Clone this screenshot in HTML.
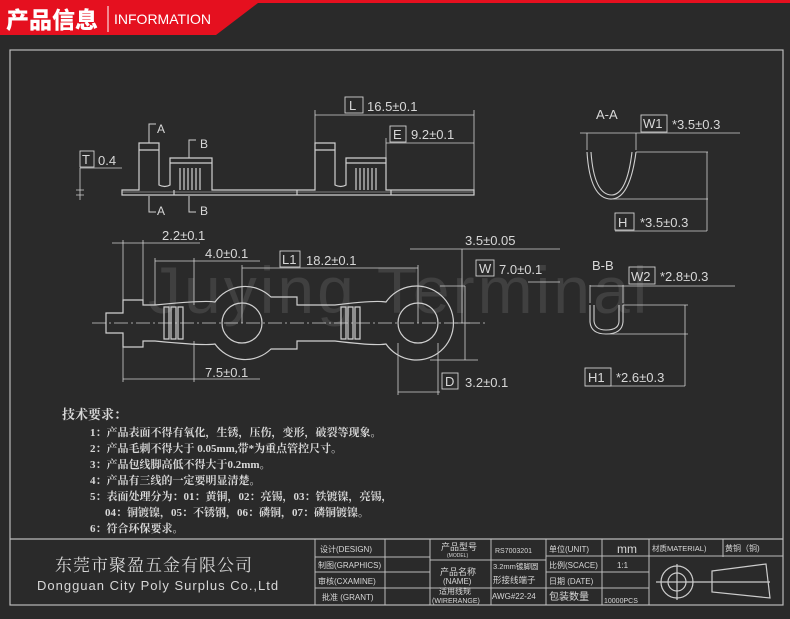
<!DOCTYPE html>
<html><head><meta charset="utf-8"><style>
html,body{margin:0;padding:0;background:#2a2a2a;}
svg{display:block}
text{font-family:"Liberation Sans","Noto Sans CJK SC",sans-serif;fill:#d8d8d8}
.cn{font-family:"Liberation Serif","Noto Serif CJK SC",serif;}
</style></head><body>
<svg width="790" height="619" viewBox="0 0 790 619" xmlns="http://www.w3.org/2000/svg">
<rect width="790" height="619" fill="#2a2a2a"/>
<!-- header -->
<polygon points="0,0 790,0 790,3 258,3 216,35 0,35" fill="#e5101f"/>
<text x="6" y="28" style="font-family:'Noto Sans CJK SC',sans-serif;font-weight:900;fill:#fff" font-size="23">产品信息</text>
<line x1="108" y1="6" x2="108" y2="32" stroke="#fff" stroke-width="1"/>
<text x="114" y="24" font-size="14" style="fill:#fff">INFORMATION</text>

<!-- watermark -->
<text x="148" y="313" font-size="66" style="fill:#404040" letter-spacing="3">Juying  Terminal</text>

<g stroke="#d0d0d0" stroke-width="1.2" fill="none">
<!-- frame -->
<rect x="10" y="50" width="773" height="555" stroke="#bbb"/>
<line x1="10" y1="539" x2="783" y2="539" stroke="#bbb"/>

<!-- side view -->
<path d="M122,195 H474 V190 H386 V158 H346 V185 Q341,188 335,185 V143 H315 V190 H212 V158 H170 V185 Q165,188 159,185 V143 H139 V190 H122 Z"/>
<line x1="122" y1="192" x2="474" y2="192" stroke-width="0.6"/>
<line x1="139" y1="150" x2="159" y2="150"/>
<line x1="315" y1="150" x2="335" y2="150"/>
<line x1="170" y1="163" x2="212" y2="163"/>
<line x1="346" y1="163" x2="386" y2="163"/>
<path d="M180,168 V190 M184,168 V190 M188,168 V190 M192,168 V190 M196,168 V190 M200,168 V190"/>
<path d="M356,168 V190 M360,168 V190 M364,168 V190 M368,168 V190 M372,168 V190 M376,168 V190"/>
<line x1="174" y1="190" x2="174" y2="195"/><line x1="297" y1="190" x2="297" y2="195"/><line x1="391" y1="190" x2="391" y2="195"/>
<path d="M149,143 V124 H156 M149,196 V212 H156" stroke-width="1"/>
<path d="M189,158 V140 H196 M189,196 V212 H196" stroke-width="1"/>
<path d="M80,168 H122 M80,168 V200 M76,190 H84 M76,195 H84" stroke-width="0.8"/>
<path d="M315,143 V110 M474,190 V110 M315,115 H474 M386,158 V138 M386,143 H474" stroke-width="0.8"/>

<!-- top view -->
<line x1="92" y1="323" x2="485" y2="323" stroke-dasharray="14,3,2,3" stroke-width="0.8"/>
<path d="M106,313 H123 V300 H143 V305 H155 Q205,300 215,302 A37,37 0 0 1 271,297 H280 V297 H297 V305 H335 Q375,300 386,302 A37,37 0 1 1 386,344 Q375,346 335,341 H297 V349 H280 V349 H271 A37,37 0 0 1 215,344 Q205,346 155,341 H143 V347 H123 V333 H106 Z"/>
<circle cx="242" cy="323" r="20"/>
<circle cx="418" cy="323" r="20"/>
<path d="M164,307 h5 v32 h-5 z M171,307 h5 v32 h-5 z M178,307 h5 v32 h-5 z"/>
<path d="M341,307 h5 v32 h-5 z M348,307 h5 v32 h-5 z M355,307 h5 v32 h-5 z"/>
<g stroke-width="0.8">
<path d="M123,300 V240 M143,305 V240 M112,243 H200"/>
<path d="M155,305 V258 M194,305 V258 M155,261 H260"/>
<path d="M242,323 V265 M418,323 V265 M242,268 H418"/>
<path d="M123,347 V382 M194,341 V382 M123,379 H260"/>
<path d="M398,343 V395 M438,343 V395 M398,392 H440"/>
<path d="M440,286 H465 M430,360 H478 M465,286 V360"/>
<path d="M410,249 H560 M462,249 V323 M455,323 H470"/>
<path d="M528,282 H560"/>
</g>

<!-- A-A -->
<path d="M587,152 Q590,200 612,199 Q630,198 636,152 M591,152 Q594,195 612,195 Q627,194 632,152" stroke-width="1.1"/>
<g stroke-width="0.8">
<path d="M587,150 V133 M636,150 V133 M580,133 H740"/>
<path d="M636,152 H708 M612,199 H708 M707,152 V231 M615,231 H707"/>
</g>
<!-- B-B -->
<path d="M590,305 V322 Q591,334 606,334 Q622,334 623,322 V305 M594,305 V321 Q595,330 606,330 Q619,330 619,321 V305" stroke-width="1.1"/>
<g stroke-width="0.8">
<path d="M590,303 V285 M623,303 V285 M590,286 H735"/>
<path d="M623,305 H688 M606,334 H688 M685,305 V386 M585,386 H685"/>
</g>

<g stroke-width="0.9">
<rect x="80" y="151" width="14" height="16"/>
<rect x="345" y="97" width="18" height="16"/>
<rect x="390" y="126" width="16" height="16"/>
<rect x="280" y="251" width="20" height="16"/>
<rect x="476" y="260" width="18" height="16"/>
<rect x="442" y="373" width="16" height="16"/>
<rect x="641" y="115" width="26" height="17"/>
<rect x="615" y="213" width="19" height="17"/>
<rect x="629" y="267" width="26" height="17"/>
<rect x="585" y="368" width="26" height="18"/>
</g>

<!-- title block -->
<g stroke="#bbb" stroke-width="1">
<line x1="315" y1="539" x2="315" y2="605"/>
<line x1="385" y1="539" x2="385" y2="605"/>
<line x1="430" y1="539" x2="430" y2="605"/>
<line x1="491" y1="539" x2="491" y2="605"/>
<line x1="546" y1="539" x2="546" y2="605"/>
<line x1="602" y1="539" x2="602" y2="605"/>
<line x1="649" y1="539" x2="649" y2="605"/>
<line x1="723" y1="539" x2="723" y2="557"/>
<line x1="315" y1="557" x2="430" y2="557"/>
<line x1="315" y1="572" x2="430" y2="572"/>
<line x1="315" y1="588" x2="430" y2="588"/>
<line x1="430" y1="560" x2="546" y2="560"/>
<line x1="430" y1="588" x2="546" y2="588"/>
<line x1="546" y1="556" x2="783" y2="556"/>
<line x1="546" y1="572" x2="649" y2="572"/>
<line x1="546" y1="588" x2="649" y2="588"/>
</g>
<g stroke="#ccc" stroke-width="1.2">
<circle cx="677" cy="582" r="16"/><circle cx="677" cy="582" r="9"/>
<line x1="656" y1="582" x2="770" y2="582"/><line x1="677" y1="564" x2="677" y2="600"/>
<path d="M712,571 L766,564 L770,598 L712,592 Z"/>
</g>
</g>

<g font-size="13">
<text x="82" y="164">T</text><text x="98" y="165">0.4</text>
<text x="157" y="133" font-size="12">A</text><text x="157" y="215" font-size="12">A</text>
<text x="200" y="148" font-size="12">B</text><text x="200" y="215" font-size="12">B</text>
<text x="349" y="110">L</text><text x="367" y="111">16.5±0.1</text>
<text x="393" y="139">E</text><text x="411" y="139">9.2±0.1</text>
<text x="162" y="240">2.2±0.1</text>
<text x="205" y="258">4.0±0.1</text>
<text x="282" y="264">L1</text><text x="306" y="265">18.2±0.1</text>
<text x="465" y="245">3.5±0.05</text>
<text x="479" y="273">W</text><text x="499" y="274">7.0±0.1</text>
<text x="205" y="377">7.5±0.1</text>
<text x="445" y="386">D</text><text x="465" y="387">3.2±0.1</text>
<text x="596" y="119">A-A</text>
<text x="643" y="128">W1</text><text x="672" y="129">*3.5±0.3</text>
<text x="618" y="227">H</text><text x="640" y="227">*3.5±0.3</text>
<text x="592" y="270">B-B</text>
<text x="631" y="281">W2</text><text x="660" y="281">*2.8±0.3</text>
<text x="588" y="382">H1</text><text x="616" y="382">*2.6±0.3</text>
</g>

<g class="cn" font-size="11" style="font-weight:bold">
<text x="62" y="419" font-size="13" class="cn">技术要求：</text>
<text x="90" y="436" class="cn">1：产品表面不得有氧化，生锈，压伤，变形，破裂等现象。</text>
<text x="90" y="452" class="cn">2：产品毛刺不得大于 0.05mm,带*为重点管控尺寸。</text>
<text x="90" y="468" class="cn">3：产品包线脚高低不得大于0.2mm。</text>
<text x="90" y="484" class="cn">4：产品有三线的一定要明显清楚。</text>
<text x="90" y="500" class="cn">5：表面处理分为：01：黄铜，02：亮锡，03：铁镀镍，亮锡，</text>
<text x="105" y="516" class="cn">04：铜镀镍，05：不锈钢，06：磷铜，07：磷铜镀镍。</text>
<text x="90" y="532" class="cn">6：符合环保要求。</text>
</g>

<text x="55" y="571" font-size="17" class="cn" letter-spacing="1">东莞市聚盈五金有限公司</text>
<text x="37" y="590" font-size="13" letter-spacing="1">Dongguan City Poly Surplus Co.,Ltd</text>

<g font-size="8">
<text x="320" y="552">设计(DESIGN)</text>
<text x="318" y="568">制图(GRAPHICS)</text>
<text x="318" y="584">审核(CXAMINE)</text>
<text x="322" y="600">批准 (GRANT)</text>
<text x="441" y="550" font-size="9">产品型号</text>
<text x="447" y="557" font-size="5">(MODEL)</text>
<text x="440" y="575" font-size="9">产品名称</text>
<text x="443" y="584" font-size="8">(NAME)</text>
<text x="439" y="594" font-size="8">适用线规</text>
<text x="432" y="603" font-size="7">(WIRERANGE)</text>
<text x="495" y="553" font-size="7">RS7003201</text>
<text x="493" y="569" font-size="7.5">3.2mm镀脚圆</text>
<text x="493" y="583" font-size="8.5">形接线端子</text>
<text x="492" y="599" font-size="8">AWG#22-24</text>
<text x="549" y="552">单位(UNIT)</text>
<text x="549" y="568">比例(SCACE)</text>
<text x="549" y="584">日期 (DATE)</text>
<text x="549" y="600" font-size="10">包装数量</text>
<text x="617" y="553" font-size="12">mm</text>
<text x="617" y="568">1:1</text>
<text x="604" y="603" font-size="7">10000PCS</text>
<text x="652" y="551" font-size="7.5">材质MATERIAL)</text>
<text x="725" y="551" font-size="8">黄铜（铜)</text>
</g>
</svg>
</body></html>
